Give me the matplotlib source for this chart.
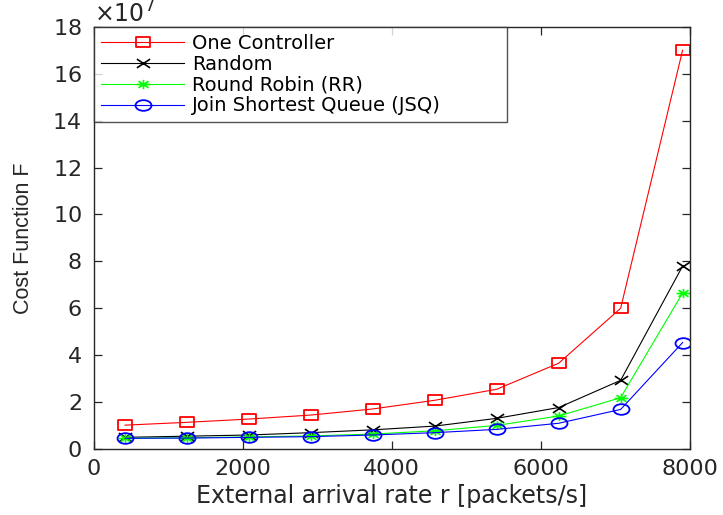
import matplotlib
matplotlib.use("Agg")
import matplotlib.pyplot as plt
from matplotlib.path import Path
from matplotlib.transforms import Affine2D
from matplotlib.ticker import ScalarFormatter

plt.rcParams["font.family"] = ["DejaVu Sans"]

# arrival rates [packets/s]
rates = [416, 1248, 2080, 2912, 3744, 4576, 5408, 6240, 7072, 7904]

# cost function values
one_controller = [1.02e7, 1.14e7, 1.28e7, 1.45e7, 1.71e7, 2.08e7, 2.55e7, 3.66e7, 6.0e7, 17.0e7]
random_sel = [0.50e7, 0.55e7, 0.60e7, 0.70e7, 0.82e7, 0.98e7, 1.31e7, 1.77e7, 2.93e7, 7.8e7]
round_robin = [0.46e7, 0.48e7, 0.52e7, 0.56e7, 0.64e7, 0.78e7, 1.01e7, 1.41e7, 2.19e7, 6.65e7]
jsq = [0.46e7, 0.47e7, 0.50e7, 0.53e7, 0.60e7, 0.70e7, 0.84e7, 1.10e7, 1.69e7, 4.54e7]

# wide (flattened) marker shapes
W = 1.5
sq = Path([(-W, -1), (W, -1), (W, 1), (-W, 1), (-W, -1)],
          [Path.MOVETO, Path.LINETO, Path.LINETO, Path.LINETO, Path.CLOSEPOLY])
ell = Path.unit_circle().transformed(Affine2D().scale(W, 1))
cross = Path([(-W, -1), (W, 1), (-W, 1), (W, -1)],
             [Path.MOVETO, Path.LINETO, Path.MOVETO, Path.LINETO])
d = 0.72
aster = Path([(-W, 0), (W, 0), (0, -1), (0, 1),
              (-W * d, -d), (W * d, d), (-W * d, d), (W * d, -d)],
             [Path.MOVETO, Path.LINETO] * 4)

fig = plt.figure(figsize=(7.23, 5.15), dpi=100)
ax = fig.add_axes([0.130, 0.128, 0.824, 0.820])

ax.plot(rates, one_controller, color="red", lw=0.8, marker=sq, ms=10,
        mfc="none", mew=1.3, label="One Controller")
ax.plot(rates, random_sel, color="black", lw=0.8, marker=cross, ms=9.5,
        mew=1.2, label="Random")
ax.plot(rates, round_robin, color="#00ff00", lw=0.8, marker=aster, ms=10,
        mew=1.2, label="Round Robin (RR)")
ax.plot(rates, jsq, color="blue", lw=0.8, marker=ell, ms=11.5,
        mfc="none", mew=1.3, label="Join Shortest Queue (JSQ)")

ax.set_xlim(0, 8000)
ax.set_ylim(0, 18e7)
ax.set_xticks([0, 2000, 4000, 6000, 8000])
ax.set_yticks([i * 2e7 for i in range(10)])

fmt = ScalarFormatter(useMathText=True)
fmt.set_powerlimits((7, 7))
ax.yaxis.set_major_formatter(fmt)
ax.yaxis.get_offset_text().set_fontsize(17)

ax.tick_params(direction="in", top=True, right=True, labelsize=16,
               length=6, width=0.9, colors="#262626")
ax.tick_params(axis="y", pad=9)
ax.tick_params(axis="x", pad=7)
for s in ax.spines.values():
    s.set_color("#262626")
    s.set_linewidth(1.0)

ax.set_xlabel("External arrival rate r [packets/s]", fontsize=17,
              color="#262626", labelpad=4)
ax.set_ylabel("Cost Function F", fontsize=15.5, color="#262626",
              family=["Liberation Sans Narrow", "DejaVu Sans Condensed",
                      "Liberation Sans"])
ax.yaxis.set_label_coords(-0.10, 0.5)

leg = ax.legend(loc="upper left", bbox_to_anchor=(0, 0.5, 413 / 596, 0.5),
                mode="expand", fontsize=14, fancybox=False,
                borderaxespad=0, handlelength=4.3, labelspacing=0.1,
                borderpad=0.35, handletextpad=0.4)
leg.get_frame().set_edgecolor("#262626")
leg.get_frame().set_linewidth(1.0)

fig.savefig("out.png", dpi=100)
